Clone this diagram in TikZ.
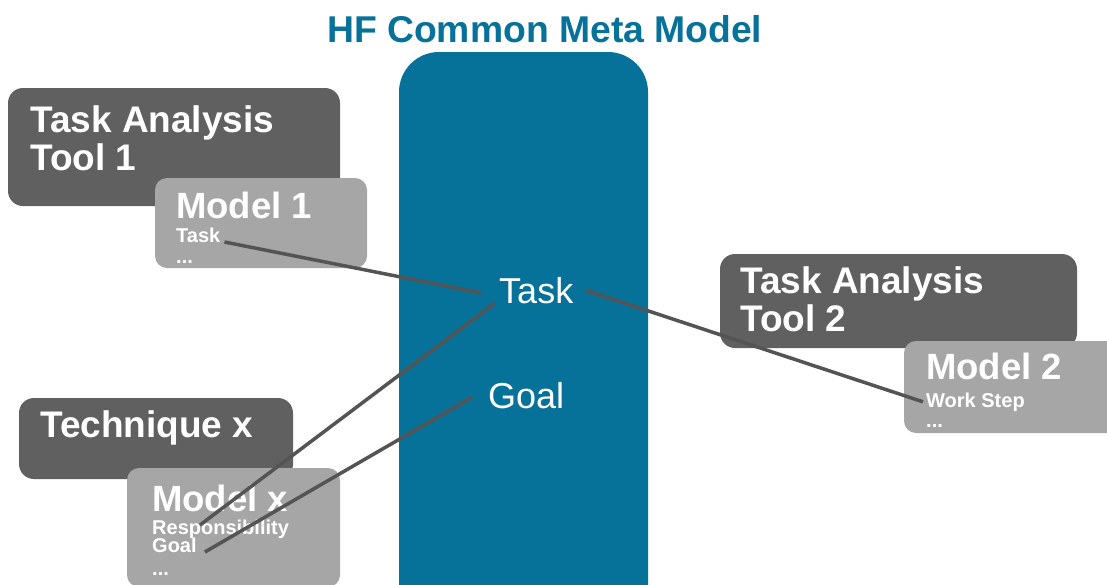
\documentclass[tikz,border=0pt]{standalone}
\usepackage{fontspec}
\setmainfont{Liberation Sans}
\definecolor{metablue}{RGB}{7,114,153}
\definecolor{tooldark}{RGB}{96,96,96}
\definecolor{modellight}{RGB}{166,166,166}
\definecolor{linkgray}{RGB}{84,84,84}
\tikzset{
  toolbox/.style={fill=tooldark, rounded corners=15pt},
  modelbox/.style={fill=modellight, rounded corners=12pt},
  bigtext/.style={text=white, inner sep=0pt, anchor=base west, font=\fontsize{37}{39}\selectfont\bfseries},
  modeltext/.style={text=white, inner sep=0pt, anchor=base west, font=\fontsize{36.5}{39}\selectfont\bfseries},
  smalltext/.style={text=white, inner sep=0pt, anchor=base west, font=\fontsize{20}{22}\selectfont\bfseries},
  concept/.style={text=white, inner xsep=12pt, inner ysep=0pt, anchor=base west, font=\fontsize{36}{38}\selectfont},
  link/.style={draw=linkgray, line width=3.5pt}
}
\begin{document}
\begin{tikzpicture}[x=1pt,y=-1pt]
\useasboundingbox (0,0) rectangle (1107,584);
\fill[white] (0,0) rectangle (1107,584);

% title
\node[text=metablue, inner sep=0pt, anchor=base west, font=\fontsize{37.3}{40}\selectfont\bfseries] (title) at (327,42) {HF Common Meta Model};

% common meta model column
\fill[metablue, rounded corners=40pt] (399,52) rectangle (648,640);

% tool boxes
\fill[toolbox] (8,88) rectangle (340,206);
\fill[modelbox] (155,178) rectangle (367,268);
\fill[toolbox] (720,254) rectangle (1077,348);
\fill[modelbox] (904,341) rectangle (1125,433);
\fill[toolbox] (19,398) rectangle (293,479);
\fill[modelbox] (127,468) rectangle (340,587);

% tool 1
\node[bigtext] (t1a) at (30,132) {Task Analysis};
\node[bigtext] (t1b) at (30,170) {Tool 1};
\node[modeltext] (m1) at (176,218) {Model 1};
\node[smalltext] (m1task) at (176,242) {Task};
\node[smalltext] (m1dots) at (176,263) {...};

% tool 2
\node[bigtext] (t2a) at (740,293) {Task Analysis};
\node[bigtext] (t2b) at (740,331) {Tool 2};
\node[modeltext] (m2) at (926,379) {Model 2};
\node[smalltext] (m2work) at (926,407) {Work Step};
\node[smalltext] (m2dots) at (926,427) {...};

% technique x
\node[bigtext] (tx) at (40,437) {Technique x};
\node[modeltext] (mx) at (152,511) {Model x};
\node[smalltext] (mxresp) at (152,534) {Responsibility};
\node[smalltext] (mxgoal) at (152,552) {Goal};
\node[smalltext] (mxdots) at (152,575) {...};

% meta model concepts
\node[concept] (ctask) at (487,303) {Task};
\node[concept] (cgoal) at (476,408) {Goal};

% mappings
\draw[link] ([xshift=4pt]m1task.base east) -- ([xshift=-5pt,yshift=-3pt]ctask.west);
\draw[link] (ctask.east) -- ([xshift=-3pt]m2work.west);
\draw[link] ([xshift=48pt,yshift=9pt]mxresp.base west) -- ([xshift=8pt]ctask.base west);
\draw[link] ([xshift=8pt]mxgoal.base east) -- ([xshift=-4pt,yshift=-2pt]cgoal.west);
\end{tikzpicture}
\end{document}
